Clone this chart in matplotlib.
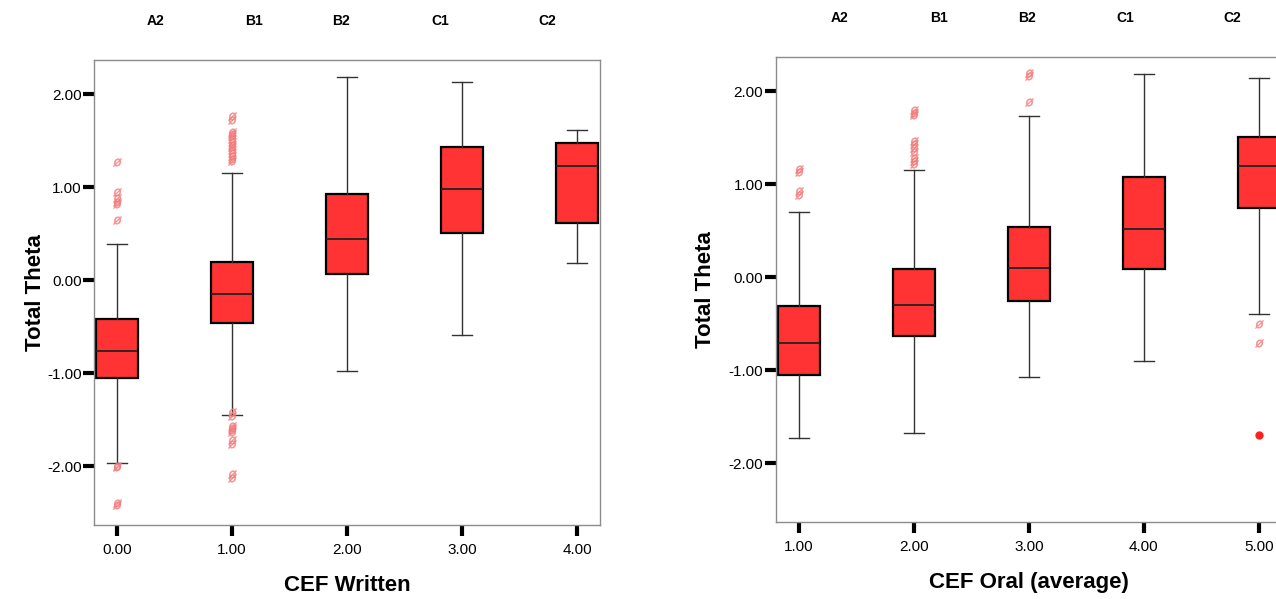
import matplotlib
matplotlib.use('Agg')
import matplotlib.pyplot as plt
import matplotlib.transforms as mtransforms
from matplotlib.ticker import FormatStrFormatter

plt.rcParams.update({
    'font.family': ['Liberation Sans', 'DejaVu Sans'],
    'font.size': 10,
})

# CEF Written (left panel)
written_levels = [0, 1, 2, 3, 4]
written_names = ['A2', 'B1', 'B2', 'C1', 'C2']
written_q1 = [-1.05, -0.46, 0.07, 0.51, 0.62]
written_med = [-0.76, -0.15, 0.45, 0.98, 1.23]
written_q3 = [-0.41, 0.20, 0.93, 1.43, 1.48]
written_lo = [-1.96, -1.45, -0.97, -0.59, 0.19]
written_hi = [0.39, 1.16, 2.19, 2.13, 1.62]
written_out = [
    [1.27, 0.95, 0.89, 0.84, 0.82, 0.65, -1.99, -2.01, -2.39, -2.41],
    [1.77, 1.73, 1.60, 1.57, 1.55, 1.52, 1.49, 1.46, 1.43, 1.40, 1.37,
     1.34, 1.31, 1.28, -1.42, -1.46, -1.56, -1.59, -1.61, -1.63, -1.72,
     -1.76, -2.08, -2.12],
    [], [], [],
]

# CEF Oral (right panel)
oral_levels = [1, 2, 3, 4, 5]
oral_names = ['A2', 'B1', 'B2', 'C1', 'C2']
oral_q1 = [-1.05, -0.63, -0.25, 0.09, 0.75]
oral_med = [-0.70, -0.30, 0.10, 0.52, 1.20]
oral_q3 = [-0.31, 0.09, 0.54, 1.08, 1.51]
oral_lo = [-1.73, -1.67, -1.07, -0.90, -0.39]
oral_hi = [0.70, 1.15, 1.74, 2.19, 2.14]
oral_out = [
    [1.17, 1.13, 0.93, 0.89],
    [1.80, 1.77, 1.75, 1.47, 1.43, 1.39, 1.35, 1.28, 1.25, 1.22],
    [2.20, 2.17, 1.89],
    [],
    [-0.50, -0.70],
]
oral_extreme = [[], [], [], [], [-1.69]]

BOX_COLOR = '#ff3333'
OUT_COLOR = '#f47a7a'


def draw_panel(ax, levels, names, name_pos, q1, med, q3, lo, hi, outs,
               extremes, xlabel, xlim, ylabel_x):
    stats = []
    for i in range(len(levels)):
        stats.append({'med': med[i], 'q1': q1[i], 'q3': q3[i],
                      'whislo': lo[i], 'whishi': hi[i], 'fliers': outs[i]})
    ax.bxp(stats, positions=levels, widths=0.37, capwidths=0.17,
           patch_artist=True, manage_ticks=False,
           boxprops=dict(facecolor=BOX_COLOR, edgecolor='black', linewidth=1.6),
           medianprops=dict(color='#222222', linewidth=1.3),
           whiskerprops=dict(color='#333333', linewidth=1.0),
           capprops=dict(color='#333333', linewidth=1.0),
           flierprops=dict(marker='$\u00f8$', markersize=6, linestyle='none',
                           markeredgecolor=OUT_COLOR, markerfacecolor=OUT_COLOR,
                           alpha=0.8, markeredgewidth=0.3))
    # extreme values (filled marker)
    for x, ext in zip(levels, extremes):
        if ext:
            ax.plot([x] * len(ext), ext, linestyle='none', marker='o',
                    markersize=5, color='#ff2020')

    ax.set_xlim(*xlim)
    ax.set_ylim(-2.63, 2.37)
    ax.set_xticks(levels)
    ax.set_yticks([-2, -1, 0, 1, 2])
    ax.xaxis.set_major_formatter(FormatStrFormatter('%.2f'))
    ax.yaxis.set_major_formatter(FormatStrFormatter('%.2f'))
    ax.tick_params(axis='both', direction='out', length=8, width=3,
                   color='black', labelsize=11)
    ax.tick_params(axis='x', pad=5)
    ax.tick_params(axis='y', pad=1)
    for sp in ax.spines.values():
        sp.set_color('#8c8c8c')
        sp.set_linewidth(1.0)

    ax.set_xlabel(xlabel, fontsize=16, fontweight='bold', va='center')
    ax.xaxis.set_label_coords(0.5, -0.13)
    ax.set_ylabel('Total Theta', fontsize=16, fontweight='bold', va='center')
    ax.yaxis.set_label_coords(ylabel_x, 0.5)

    # CEF level names above the panel
    trans = mtransforms.blended_transform_factory(ax.transData, ax.transAxes)
    for x, n in zip(name_pos, names):
        ax.text(x, 1.083, n, transform=trans, ha='center', va='center',
                fontsize=10, fontweight='bold', clip_on=False)


fig = plt.figure(figsize=(12.76, 5.99), dpi=100)
ax1 = fig.add_axes([0.0737, 0.1235, 0.3966, 0.7763])
ax2 = fig.add_axes([0.608, 0.1285, 0.3966, 0.7763])

draw_panel(ax1, written_levels, written_names, [0.33, 1.19, 1.95, 2.81, 3.74],
           written_q1, written_med, written_q3, written_lo, written_hi,
           written_out, [[], [], [], [], []], 'CEF Written', (-0.2, 4.2),
           -0.115)
draw_panel(ax2, oral_levels, oral_names, [1.35, 2.22, 2.98, 3.84, 4.77],
           oral_q1, oral_med, oral_q3, oral_lo, oral_hi,
           oral_out, oral_extreme, 'CEF Oral (average)', (0.8, 5.2),
           -0.138)

fig.savefig('out.png', dpi=100)
